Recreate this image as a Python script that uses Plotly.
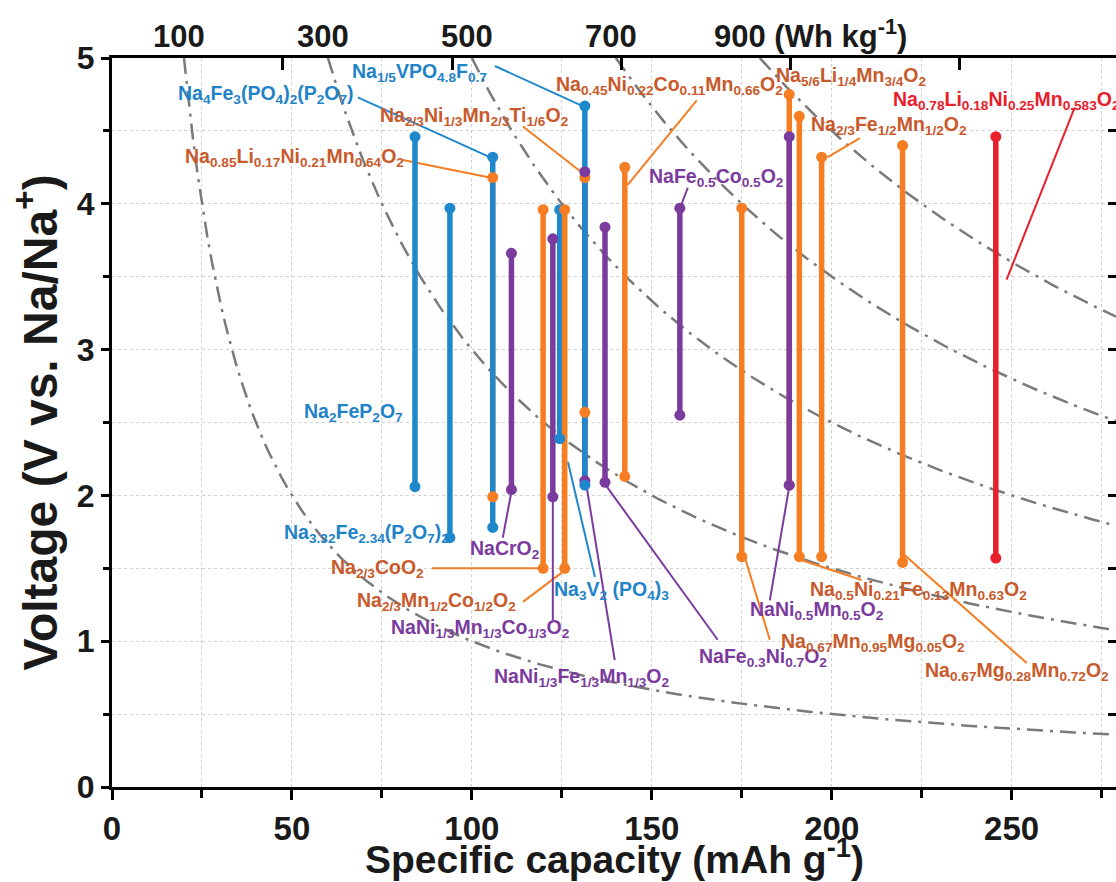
import plotly.graph_objects as go

# ---------------- data ----------------
names = [
    "Na<sub>0.85</sub>Li<sub>0.17</sub>Ni<sub>0.21</sub>Mn<sub>0.64</sub>O<sub>2</sub>",
    "Na<sub>2/3</sub>Ni<sub>1/3</sub>Mn<sub>2/3</sub>Ti<sub>1/6</sub>O<sub>2</sub>",
    "NaNi<sub>1/3</sub>Fe<sub>1/3</sub>Mn<sub>1/3</sub>O<sub>2</sub>",
    "Na<sub>5/6</sub>Li<sub>1/4</sub>Mn<sub>3/4</sub>O<sub>2</sub>",
    "Na<sub>2</sub>FeP<sub>2</sub>O<sub>7</sub>",
    "Na<sub>3.32</sub>Fe<sub>2.34</sub>(P<sub>2</sub>O<sub>7</sub>)<sub>2</sub>",
    "Na<sub>4</sub>Fe<sub>3</sub>(PO<sub>4</sub>)<sub>2</sub>(P<sub>2</sub>O<sub>7</sub>)",
    "NaCrO<sub>2</sub>",
    "Na<sub>2/3</sub>CoO<sub>2</sub>",
    "NaNi<sub>1/3</sub>Mn<sub>1/3</sub>Co<sub>1/3</sub>O<sub>2</sub>",
    "Na<sub>3</sub>V<sub>2</sub> (PO<sub>4</sub>)<sub>3</sub>",
    "Na<sub>2/3</sub>Mn<sub>1/2</sub>Co<sub>1/2</sub>O<sub>2</sub>",
    "Na<sub>1/5</sub>VPO<sub>4.8</sub>F<sub>0.7</sub>",
    "NaFe<sub>0.3</sub>Ni<sub>0.7</sub>O<sub>2</sub>",
    "Na<sub>0.45</sub>Ni<sub>0.22</sub>Co<sub>0.11</sub>Mn<sub>0.66</sub>O<sub>2</sub>",
    "NaFe<sub>0.5</sub>Co<sub>0.5</sub>O<sub>2</sub>",
    "Na<sub>0.67</sub>Mn<sub>0.95</sub>Mg<sub>0.05</sub>O<sub>2</sub>",
    "NaNi<sub>0.5</sub>Mn<sub>0.5</sub>O<sub>2</sub>",
    "Na<sub>0.5</sub>Ni<sub>0.21</sub>Fe<sub>0.13</sub>Mn<sub>0.63</sub>O<sub>2</sub>",
    "Na<sub>2/3</sub>Fe<sub>1/2</sub>Mn<sub>1/2</sub>O<sub>2</sub>",
    "Na<sub>0.67</sub>Mg<sub>0.28</sub>Mn<sub>0.72</sub>O<sub>2</sub>",
    "Na<sub>0.78</sub>Li<sub>0.18</sub>Ni<sub>0.25</sub>Mn<sub>0.583</sub>O<sub>2</sub>",
]
groups = ["orange", "orange", "purple", "orange", "blue", "blue", "blue", "purple",
          "orange", "purple", "blue", "orange", "blue", "purple", "orange", "purple",
          "orange", "purple", "orange", "orange", "orange", "red"]
capacity = [105.8, 131.4, 131.4, 188.2, 84.2, 93.9, 105.8, 111.0,
            119.8, 122.5, 124.4, 125.8, 131.4, 137.0, 142.5, 157.8,
            175.0, 188.2, 191.0, 197.2, 219.7, 245.6]
v_low = [1.99, 2.57, 2.10, 2.07, 2.06, 1.71, 1.78, 2.04,
         1.50, 1.99, 2.39, 1.50, 2.07, 2.09, 2.13, 2.55,
         1.58, 2.07, 1.58, 1.58, 1.54, 1.57]
v_high = [4.18, 4.18, 4.22, 4.75, 4.46, 3.97, 4.32, 3.66,
          3.96, 3.76, 3.96, 3.96, 4.67, 3.84, 4.25, 3.97,
          3.97, 4.46, 4.60, 4.32, 4.40, 4.46]

energy_levels = [100, 300, 500, 700, 900]          # Wh/kg iso-energy curves
top_tick_caps = [47.5, 94.5, 141.5, 188.5, 235.5]  # top-axis tick marks

# ---------------- styles / label layout ----------------
bar_color = {"blue": "#1f88cc", "orange": "#f57d22", "purple": "#7b3b9e", "red": "#e8202c"}
text_color = {"blue": "#1f83c8", "orange": "#c85a2c", "purple": "#7b3b9e", "red": "#e8202c"}

# label centre (C, V) and leader (C0, V0, C1, V1) or None, keyed by index in names
label_pos = {
    12: (85.5, 4.90, (106.4, 4.945, 130.8, 4.67)),
    6: (42.8, 4.75, (68.3, 4.73, 105.0, 4.32)),
    1: (100.8, 4.60, (114.2, 4.53, 130.3, 4.22)),
    0: (50.7, 4.32, (80.8, 4.30, 105.0, 4.18)),
    14: (155.0, 4.81, (162.5, 4.71, 143.3, 4.13)),
    3: (205.4, 4.87, None),
    21: (248.6, 4.71, (267.5, 4.66, 248.6, 3.48)),
    19: (216.0, 4.54, (207.8, 4.45, 198.9, 4.32)),
    15: (167.9, 4.18, (160.0, 4.11, 158.3, 4.00)),
    4: (67.2, 2.57, None),
    5: (70.6, 1.74, None),
    7: (109.2, 1.63, (108.6, 1.71, 111.1, 2.04)),
    8: (73.7, 1.50, (88.9, 1.50, 119.7, 1.50)),
    11: (90.1, 1.27, (114.2, 1.27, 125.0, 1.47)),
    10: (138.9, 1.35, (134.2, 1.44, 126.7, 2.23)),
    9: (102.3, 1.09, (122.5, 1.145, 122.5, 1.99)),
    2: (130.4, 0.75, (139.7, 0.87, 131.9, 2.06)),
    13: (180.9, 0.885, (168.3, 1.01, 137.5, 2.06)),
    17: (195.9, 1.21, (182.8, 1.28, 188.2, 2.06)),
    18: (224.2, 1.35, (208.3, 1.42, 191.1, 1.56)),
    16: (211.4, 0.99, (182.8, 1.01, 175.8, 1.58)),
    20: (251.4, 0.79, (254.2, 0.85, 220.3, 1.59)),
}

FONT = "Liberation Sans, Arial, sans-serif"
XMAX = 279.0

fig = go.Figure()

# iso-energy curves
for E in energy_levels:
    n = 200
    c0 = E / 5.0
    cs = [c0 + (XMAX - c0) * i / (n - 1) for i in range(n)]
    fig.add_trace(go.Scatter(x=cs, y=[E / c for c in cs], mode="lines",
                             line=dict(color="#7a7a7a", width=2.5, dash="16px,7px,3px,7px"),
                             hoverinfo="skip", showlegend=False))

# leader lines
for i, (lx, ly, lead) in label_pos.items():
    if lead is None:
        continue
    fig.add_trace(go.Scatter(x=[lead[0], lead[2]], y=[lead[1], lead[3]], mode="lines",
                             line=dict(color=bar_color[groups[i]], width=2),
                             hoverinfo="skip", showlegend=False))

# bars (lines)
for i in range(len(names)):
    fig.add_trace(go.Scatter(x=[capacity[i], capacity[i]], y=[v_low[i], v_high[i]],
                             mode="lines", line=dict(color=bar_color[groups[i]], width=5.5),
                             hoverinfo="skip", showlegend=False))
# bar end markers
for i in range(len(names)):
    fig.add_trace(go.Scatter(x=[capacity[i], capacity[i]], y=[v_low[i], v_high[i]],
                             mode="markers",
                             marker=dict(color=bar_color[groups[i]], size=11, symbol="circle",
                                         line=dict(width=0)),
                             hoverinfo="skip", showlegend=False))

# dummy trace for secondary axes
fig.add_trace(go.Scatter(x=[None], y=[None], xaxis="x2", yaxis="y2", showlegend=False,
                         hoverinfo="skip"))

annotations = []
for i, (lx, ly, lead) in label_pos.items():
    annotations.append(dict(x=lx, y=ly, xref="x", yref="y", text=names[i], showarrow=False,
                            xanchor="center", yanchor="middle",
                            font=dict(family=FONT, size=19.5, color=text_color[groups[i]],
                                      weight="bold")))

# top energy labels
for E in energy_levels:
    if E == energy_levels[-1]:
        annotations.append(dict(x=E / 5.0, y=1, xref="x", yref="paper",
                                text="%d (Wh kg<sup>-1</sup>)" % E, showarrow=False,
                                xanchor="left", yanchor="bottom", xshift=-48, yshift=2,
                                font=dict(family=FONT, size=31, color="#1a1a1a", weight="bold")))
    else:
        annotations.append(dict(x=E / 5.0, y=1, xref="x", yref="paper", text=str(E),
                                showarrow=False, xanchor="center", yanchor="bottom",
                                xshift=-5, yshift=2,
                                font=dict(family=FONT, size=31, color="#1a1a1a", weight="bold")))

# axis titles
annotations.append(dict(x=0.5, y=-0.096, xref="paper", yref="paper",
                        text="Specific capacity (mAh g<sup>-1</sup>)", showarrow=False,
                        xanchor="center", yanchor="middle",
                        font=dict(family=FONT, size=39, color="#1a1a1a", weight="bold")))
annotations.append(dict(x=-0.0757, y=0.5, xref="paper", yref="paper",
                        text="Voltage (V vs. Na/Na<sup>+</sup>)", showarrow=False, textangle=-90,
                        xanchor="center", yanchor="middle",
                        font=dict(family=FONT, size=48, color="#1a1a1a", weight="bold")))

grid = dict(showgrid=True, gridcolor="#cfcfcf", griddash="dot", gridwidth=1)

fig.update_layout(
    width=1116, height=882,
    margin=dict(l=112, r=0, t=58, b=95, autoexpand=False),
    paper_bgcolor="white", plot_bgcolor="white",
    showlegend=False,
    annotations=annotations,
    xaxis=dict(range=[0, XMAX], tickvals=[0, 50, 100, 150, 200, 250], ticks="outside",
               ticklen=10, tickwidth=3, tickcolor="black", automargin=False,
               showline=True, linewidth=3, linecolor="black", mirror=True, zeroline=False,
               minor=dict(tickvals=[25, 75, 125, 175, 225, 275], ticks="outside", ticklen=8,
                          tickwidth=3, tickcolor="black", showgrid=True, gridcolor="#cfcfcf",
                          griddash="dot", gridwidth=1),
               tickfont=dict(family=FONT, size=33, color="#1a1a1a", weight="bold"),
               **grid),
    yaxis=dict(range=[0, 5], dtick=1, ticks="outside", ticklen=8, tickwidth=3,
               tickcolor="black", showline=True, linewidth=3, linecolor="black", mirror=True,
               zeroline=False, automargin=False,
               minor=dict(dtick=0.5, ticks="outside", ticklen=6, tickwidth=3, tickcolor="black",
                          showgrid=True, gridcolor="#cfcfcf", griddash="dot", gridwidth=1),
               tickfont=dict(family=FONT, size=32, color="#1a1a1a", weight="bold"),
               **grid),
    xaxis2=dict(range=[0, XMAX], overlaying="x", side="top", anchor="y", automargin=False,
                tickvals=top_tick_caps, ticks="inside", ticklen=12, tickwidth=3,
                tickcolor="black", showticklabels=False, showgrid=False, zeroline=False),
    yaxis2=dict(range=[0, 5], overlaying="y", side="right", anchor="x", dtick=0.5,
                automargin=False,
                ticks="inside", ticklen=8, tickwidth=3, tickcolor="black",
                showticklabels=False, showgrid=False, zeroline=False),
)

fig.write_html("out.html", config={"displayModeBar": False},
               post_script="document.body.style.margin='0';document.body.style.overflow='hidden';")
